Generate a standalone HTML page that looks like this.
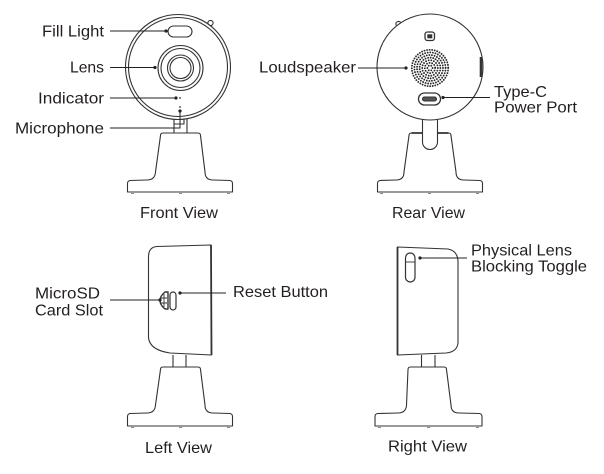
<!DOCTYPE html>
<html><head><meta charset="utf-8"><style>
html,body{margin:0;padding:0;background:#fff;}
svg{display:block;}
text{font-family:"Liberation Sans",sans-serif;font-size:16px;fill:#231f20;}
</style></head><body>
<svg width="604" height="474" viewBox="0 0 604 474" xmlns="http://www.w3.org/2000/svg">
<g fill="none" stroke="#333" stroke-width="1.1" stroke-linejoin="round">

<!-- ===== FRONT VIEW ===== -->
<circle cx="210.5" cy="23" r="2.6" fill="#fff"/>
<circle cx="178" cy="67" r="52.5" fill="#fff"/>
<circle cx="178" cy="67" r="49.5"/>
<rect x="168" y="26" width="24" height="11" rx="5.5"/>
<circle cx="180.5" cy="68" r="22.5"/>
<circle cx="180.5" cy="68" r="19.5"/>
<circle cx="180.5" cy="68" r="13"/>
<circle cx="180.5" cy="68" r="10.5"/>
<circle cx="180" cy="98" r="0.9" fill="#333" stroke="none"/>
<circle cx="180" cy="107" r="0.9" fill="#333" stroke="none"/>
<!-- neck -->
<path d="M174,119 L174,133 M187,119 L187,133 M174,124 L184,124 L184,119"/>
<!-- base -->
<path d="M163,133 L198,133 Q200.5,133 200.5,135.5 L205,172 Q205,180 213,180 L230,180.5 Q232.5,181 232.5,183.5 L232.5,192 L127.5,192 L127.5,183.5 Q127.5,181 130,180.5 L147,180 Q155,180 155.5,172 L160.5,135.5 Q160.5,133 163,133 Z" fill="#fff"/>
<path d="M131,193.5 L134,193.5 M179,193.5 L182,193.5 M227,193.5 L230,193.5" stroke="#888"/>

<!-- ===== REAR VIEW ===== -->
<circle cx="398.5" cy="24" r="2.6" fill="#fff"/>
<circle cx="430" cy="67" r="53" fill="#fff"/>
<path d="M481,57 L481,77" stroke-width="2.6"/>
<rect x="425" y="32" width="9.5" height="8.5" rx="2.5" stroke-width="1.3"/>
<rect x="427.3" y="34.3" width="5" height="4" fill="#333" stroke="none"/>
<g stroke="#2a2a2a" stroke-width="1.9" stroke-linecap="round">
<circle cx="430" cy="68" r="0.01"/>
<circle cx="430" cy="68" r="2.6" pathLength="6" stroke-dasharray="0 1"/>
<circle cx="430" cy="68" r="5.2" pathLength="12" stroke-dasharray="0 1"/>
<circle cx="430" cy="68" r="7.8" pathLength="18" stroke-dasharray="0 1"/>
<circle cx="430" cy="68" r="10.4" pathLength="25" stroke-dasharray="0 1"/>
<circle cx="430" cy="68" r="13" pathLength="31" stroke-dasharray="0 1"/>
<circle cx="430" cy="68" r="15.6" pathLength="37" stroke-dasharray="0 1"/>
<circle cx="430" cy="68" r="18.2" pathLength="44" stroke-dasharray="0 1"/>
</g>
<rect x="418.5" y="93" width="22" height="12" rx="6" stroke-width="1.3"/>
<rect x="422.5" y="97" width="14" height="4" rx="2" fill="#555"/>
<!-- neck U -->
<path d="M422.5,119 L422.5,142 A7.5,7.5 0 0 0 437.5,142 L437.5,119"/>
<!-- base -->
<path d="M411.5,133 L422.5,133 M437.5,133 L448.5,133" stroke-width="1.8"/>
<path d="M422.5,133 L411.5,133 Q409,133 409,135.5 L404,172 Q404,180 396,180 L380,180.5 Q377.5,181 377.5,183.5 L377.5,192 L482.5,192 L482.5,183.5 Q482.5,181 480,180.5 L464,180 Q456,180 456,172 L451,135.5 Q451,133 448.5,133 L437.5,133"/>
<path d="M380,193.5 L383,193.5 M428,193.5 L431,193.5 M476,193.5 L479,193.5" stroke="#888"/>

<!-- ===== LEFT VIEW ===== -->
<path d="M157,246.5 L211,245 L211.5,355 L170,353 Q150,350 148.5,338 L148.5,256 Q149,247 157,246.5 Z" fill="#fff"/>
<path d="M211,245 L211.5,355" stroke-width="1.8"/>
<path d="M168,292 L165,292 Q160,296 160,300.5 Q160,305 165,309 L168,309 Z" stroke-width="1.4"/>
<path d="M164,294 L164,307 M160.5,298 L167,298 M160.5,303 L167,303" stroke-width="0.9"/>
<path d="M168,298 L170,298 M168,303 L170,303" stroke="#7a8fb0" stroke-width="0.9"/>
<rect x="170" y="292" width="6" height="18" rx="3" stroke-width="1.2"/>
<path d="M173,355 L173,367 M186,355 L186,367"/>
<path d="M163,367 L198,367 Q200.5,367 200.5,369.5 L205,405 Q205,413 213,413 L230,413.5 Q232.5,414 232.5,416.5 L232.5,426 L127.5,426 L127.5,416.5 Q127.5,414 130,413.5 L147,413 Q155,413 155.5,405 L160.5,369.5 Q160.5,367 163,367 Z" fill="#fff"/>
<path d="M131,427.5 L134,427.5 M179,427.5 L182,427.5 M227,427.5 L230,427.5" stroke="#888"/>

<!-- ===== RIGHT VIEW ===== -->
<path d="M397.5,247 L448,249 Q458,251 458,262 L458,343 Q457,352 446,353 L397.5,355 Z" fill="#fff"/>
<path d="M397.5,247 L397.5,355" stroke-width="1.8"/>
<rect x="405.5" y="253" width="9.5" height="29" rx="4.75" stroke-width="1.2"/>
<path d="M405.5,262 L415,262" stroke-width="0.9"/>
<path d="M421.5,355 L421.5,367 M435,355 L435,367"/>
<path d="M410.5,367 L444,367 Q446.5,367 446.5,369.5 L451,405 Q451,413 459,413 L479.5,413.5 Q482,414 482,416.5 L482,426 L375,426 L375,416.5 Q375,414 377.5,413.5 L398,413 Q406,413 406.5,405 L408,369.5 Q408,367 410.5,367 Z" fill="#fff"/>
<path d="M378,427.5 L381,427.5 M427,427.5 L430,427.5 M476,427.5 L479,427.5" stroke="#888"/>
</g>

<!-- ===== CALLOUT LINES ===== -->
<g fill="none" stroke="#222" stroke-width="1">
<path d="M110,31 L166,31"/>
<path d="M110,67.5 L155,67.5"/>
<path d="M110,98 L176,98"/>
<path d="M110,128 L180,128 L180,111"/>
<path d="M358,68 L406,68"/>
<path d="M443,97.5 L490,97.5"/>
<path d="M110,300 L160,300"/>
<path d="M180,293 L226,293"/>
<path d="M420,258 L467,258"/>
</g>
<g fill="#222">
<circle cx="166" cy="31" r="1.6"/>
<circle cx="155" cy="67.5" r="1.6"/>
<circle cx="176" cy="98" r="1.6"/>
<circle cx="180" cy="111" r="1.6"/>
<circle cx="406" cy="68" r="1.6"/>
<circle cx="443" cy="97.5" r="1.6"/>
<circle cx="160" cy="300" r="1.6"/>
<circle cx="180" cy="293" r="1.6"/>
<circle cx="420" cy="258" r="1.6"/>
</g>

<!-- ===== LABELS ===== -->
<text x="42" y="36.5" textLength="62" lengthAdjust="spacingAndGlyphs">Fill Light</text>
<text x="70" y="72.5" textLength="34" lengthAdjust="spacingAndGlyphs">Lens</text>
<text x="38" y="103.5" textLength="66" lengthAdjust="spacingAndGlyphs">Indicator</text>
<text x="15" y="133.5" textLength="89" lengthAdjust="spacingAndGlyphs">Microphone</text>
<text x="140" y="218" textLength="78" lengthAdjust="spacingAndGlyphs">Front View</text>

<text x="259" y="72.7" textLength="97" lengthAdjust="spacingAndGlyphs">Loudspeaker</text>
<text x="494" y="97" textLength="53" lengthAdjust="spacingAndGlyphs">Type-C</text>
<text x="494" y="112.5" textLength="83" lengthAdjust="spacingAndGlyphs">Power Port</text>
<text x="392" y="218" textLength="73" lengthAdjust="spacingAndGlyphs">Rear View</text>

<text x="35" y="298.5" textLength="65" lengthAdjust="spacingAndGlyphs">MicroSD</text>
<text x="35" y="315.5" textLength="68" lengthAdjust="spacingAndGlyphs">Card Slot</text>
<text x="233" y="297" textLength="95" lengthAdjust="spacingAndGlyphs">Reset Button</text>
<text x="145" y="453" textLength="67" lengthAdjust="spacingAndGlyphs">Left View</text>

<text x="471" y="255.5" textLength="101" lengthAdjust="spacingAndGlyphs">Physical Lens</text>
<text x="471" y="271.7" textLength="116" lengthAdjust="spacingAndGlyphs">Blocking Toggle</text>
<text x="388" y="451.5" textLength="79" lengthAdjust="spacingAndGlyphs">Right View</text>
</svg>
</body></html>
